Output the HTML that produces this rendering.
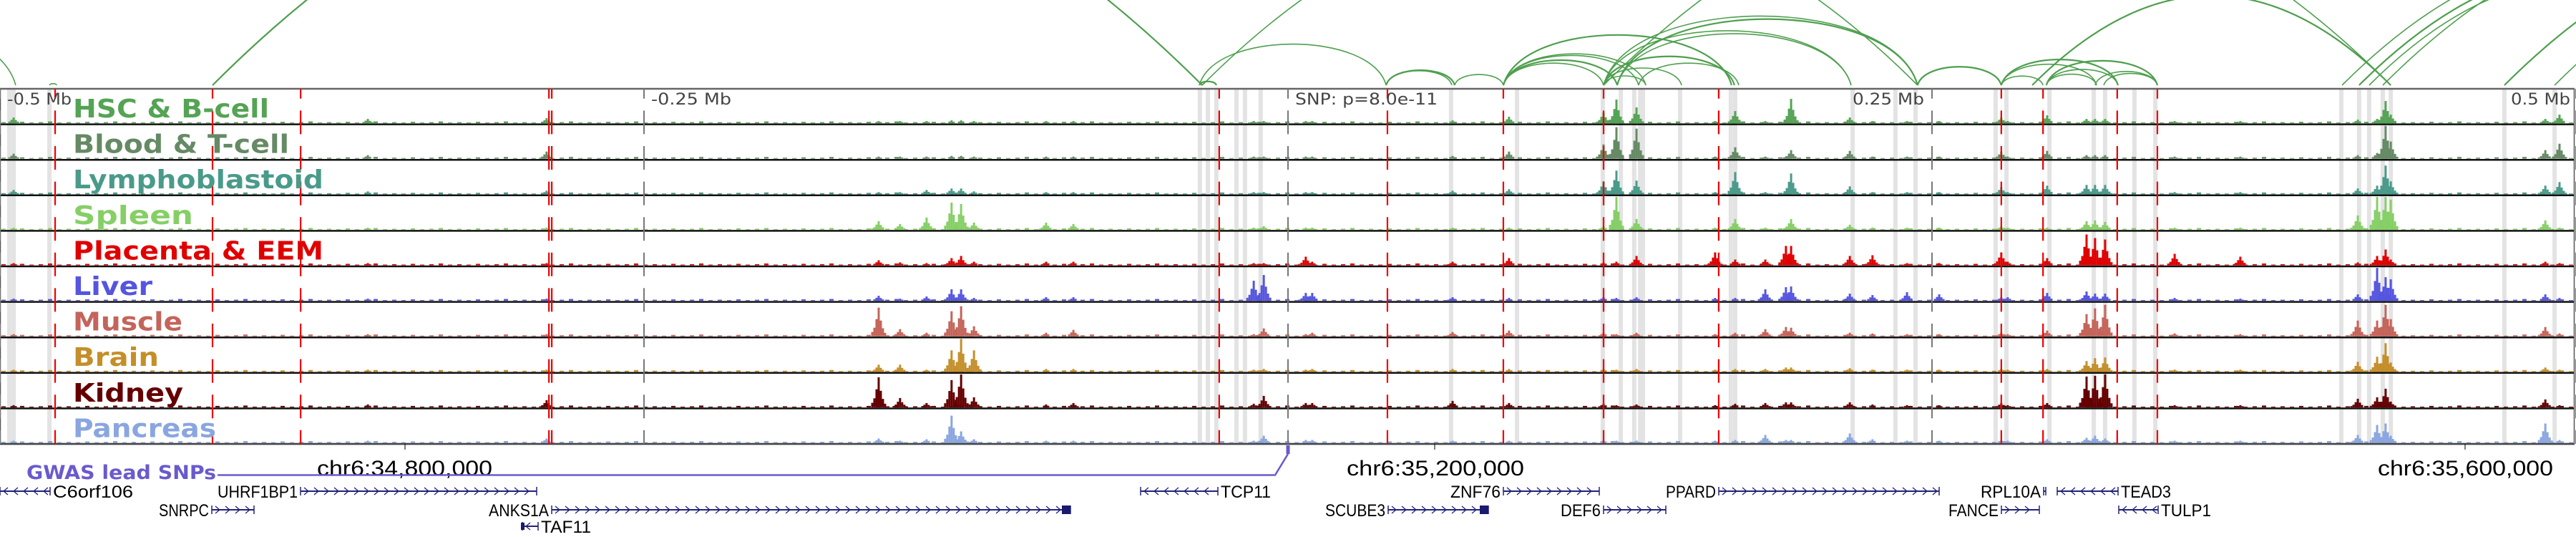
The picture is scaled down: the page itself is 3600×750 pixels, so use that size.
<!DOCTYPE html>
<html><head><meta charset="utf-8">
<style>
html,body{margin:0;padding:0;background:#fff;}
svg{display:block;}
.tl{font-family:"DejaVu Sans Condensed","DejaVu Sans",sans-serif;font-weight:bold;font-size:36px;}
.ax{font-family:"DejaVu Sans Condensed","DejaVu Sans",sans-serif;font-size:22px;fill:#444;}
.gn{font-family:"Liberation Sans",sans-serif;font-size:24px;fill:#000;}
.chr{font-family:"Liberation Sans",sans-serif;font-size:30px;fill:#000;}
</style></head>
<body>
<svg id="chart" width="3600" height="750" viewBox="0 0 3600 750" xmlns="http://www.w3.org/2000/svg">
<g id="arcs"></g>
<g id="shades"></g>
<g id="tracks"></g>
<g id="vlines"></g>
<g id="labels"></g>
<g id="axis">
  <text class="ax" x="10" y="146" textLength="90" lengthAdjust="spacingAndGlyphs">-0.5 Mb</text>
  <text class="ax" x="910" y="146" textLength="112" lengthAdjust="spacingAndGlyphs">-0.25 Mb</text>
  <text class="ax" x="1810" y="146" textLength="199" lengthAdjust="spacingAndGlyphs">SNP: p=8.0e-11</text>
  <text class="ax" x="2589" y="146" textLength="100" lengthAdjust="spacingAndGlyphs">0.25 Mb</text>
  <text class="ax" x="3509" y="146" textLength="83" lengthAdjust="spacingAndGlyphs">0.5 Mb</text>
</g>
<g id="bottom">
  <line x1="566" y1="620" x2="566" y2="628" stroke="#000" stroke-width="1"/>
  <line x1="2005" y1="620" x2="2005" y2="628" stroke="#000" stroke-width="1"/>
  <line x1="3445" y1="620" x2="3445" y2="628" stroke="#000" stroke-width="1"/>
  <text class="chr" x="443" y="664" textLength="245" lengthAdjust="spacingAndGlyphs">chr6:34,800,000</text>
  <text class="chr" x="1882" y="664" textLength="248" lengthAdjust="spacingAndGlyphs">chr6:35,200,000</text>
  <text class="chr" x="3323" y="664" textLength="245" lengthAdjust="spacingAndGlyphs">chr6:35,600,000</text>
</g>
<g id="gwas">
  <text x="37" y="669" textLength="265" lengthAdjust="spacingAndGlyphs" style="font-family:'DejaVu Sans Condensed','DejaVu Sans',sans-serif;font-weight:bold;font-size:27px;fill:#6a5acd">GWAS lead SNPs</text>
  <polyline points="304,663.5 1782,663.5 1800,634" fill="none" stroke="#6a5acd" stroke-width="2.5"/>
  <rect x="1797.5" y="622" width="5" height="12" fill="#6a5acd"/>
</g>
<g id="genes"></g>
</svg>
<script>
// ---- data (kb relative to lead SNP) ----
const trackNames = ["HSC & B-cell","Blood & T-cell","Lymphoblastoid","Spleen","Placenta & EEM","Liver","Muscle","Brain","Kidney","Pancreas"];
const trackColors = ["#55a355","#658a65","#4a9a8a","#86cf66","#e00000","#5555e0","#c4645a","#c48f2a","#650000","#8aa6e0"];
const labelWidths = [274,302,350,168,350,111,153,120,154,200];
const peakPos = [-494.7,-357.2,-287.8,-158.9,-150.6,-140.3,-130.6,-126.9,-121.9,-93.9,-83.3,-13.3,-9.4,6.9,9.4,63.9,85.8,122.5,127.5,135.3,165.8,173.6,185.3,193.3,195.3,218.1,226.9,240.3,252.8,276.9,279.4,294.7,310,313.3,317.2,344.2,369.7,415.3,422.8,426.1,428.1,488.1,493.6];
const hsc = [8,6,7,3,3,3,4,4,3,3,3,3,3,3,3,4,9,15,33,22,3,17,3,3,34,8,3,3,3,8,3,11,6,6,6,3,3,5,6,31,12,6,12];
const blood = [7,5,10,3,3,3,4,4,3,3,3,3,3,3,3,4,10,20,44,42,3,16,3,3,12,11,3,3,3,10,3,11,5,5,5,3,3,5,8,46,24,12,21];
const lympho = [6,4,5,3,3,6,8,8,4,3,3,3,3,3,3,5,7,18,33,19,3,31,3,3,29,11,3,3,3,10,3,12,13,13,13,3,3,8,12,40,18,12,17];
const spleen = [3,3,3,12,8,17,38,36,10,10,8,3,5,3,3,3,3,5,46,15,3,15,3,3,15,7,3,3,3,5,3,3,12,13,11,3,3,20,46,46,42,13,3];
const placenta = [3,3,3,7,4,3,10,13,5,5,5,3,3,12,5,5,10,4,5,13,18,8,8,27,27,13,14,3,3,18,5,10,43,38,36,16,12,4,13,22,8,5,3];
const liver = [3,3,3,7,3,6,16,16,4,5,5,28,36,11,11,5,4,5,4,5,4,4,16,19,20,10,8,12,9,5,5,11,13,10,10,4,3,9,46,33,30,9,4];
const muscle = [3,3,3,40,10,5,35,42,14,5,9,3,11,3,5,6,8,5,3,5,3,5,10,13,12,5,4,3,3,5,3,8,31,39,44,4,3,22,22,44,24,13,4];
const brain = [3,3,3,10,10,3,30,46,30,4,4,3,4,3,4,4,4,4,3,4,3,4,4,6,6,5,3,3,3,4,3,4,15,19,20,3,3,14,21,40,13,6,3];
const kidney = [3,4,10,42,13,6,38,48,14,4,6,5,16,6,6,9,6,5,3,4,3,5,6,7,7,7,4,3,3,6,3,6,43,44,47,3,3,12,14,26,8,11,3];
const pancreas = [3,3,6,6,3,5,38,16,5,3,3,3,10,4,4,3,3,4,3,3,3,4,11,4,4,13,5,3,3,4,3,5,7,10,6,3,3,11,25,27,10,27,4];
const trackValues = [hsc,blood,lympho,spleen,placenta,liver,muscle,brain,kidney,pancreas];
const arcStart = [-34.4,-34.4,38.1,38.1,64.7,83.6,83.6,83.6,83.6,83.6,122.5,122.5,122.5,122.5,127.8,127.8,136.1,122.5,244.4,276.9,276.9,276.9,294.4,294.4,294.4,313.3,316.7,288.9,122.5,409.2,415.8,419.7,425,472.2,491.7,-611,-417.5,-480.8,-33.3];
const arcEnd   = [-27.8,38.1,63.6,64.7,83.6,122.5,127.8,136.1,138.9,172.2,138.9,152.8,173.3,218.6,218.6,244.4,175,244.4,276.9,293.1,313.9,322.2,313.9,322.2,337.5,337.5,337.5,428.1,428.1,611,597,583,666.7,700,720,-493.9,-33.3,-478,244.4];
const shadePos = [-496.4,-494.7,-480.8,-34.2,-31.1,-27.8,-20,-16.7,-10.6,63.3,88.9,122.2,129.2,134.4,136.7,137.8,152.2,171.9,173.6,219.2,235.8,243.6,274.7,278.9,295.6,312.8,317.2,328.6,336.7,408.9,415.8,419.7,425,428.1,472.2,491.7];
const redPos = [-478.6,-417.5,-383.3,-286.9,-285.8,-26.7,38.6,83.6,122.5,167.2,276.9,293.1,321.9,337.5];
const tickPos = [-500,-250,0,250,500];

// ---- scales ----
const NS="http://www.w3.org/2000/svg";
const x = kb => 1800 + kb*3.6;
const TOP=124, ROWH=49.6, NT=10, BOTTOM=TOP+ROWH*NT;
const rowBase = i => TOP + ROWH*(i+1) - 1.5;
function mk(tag, attrs, parent){const e=document.createElementNS(NS,tag);for(const k in attrs)e.setAttribute(k,attrs[k]);parent.appendChild(e);return e;}

// arcs
const gA=document.getElementById('arcs');
arcStart.forEach((s,i)=>{
  const x1=x(s), x2=x(arcEnd[i]); const span=Math.abs(x2-x1); const base=119;
  let d;
  if(span>500){
    const h=0.25*span;
    d=`M${x1},${base} Q${(x1+x2)/2},${base-2*h} ${x2},${base}`;
  } else {
    const h=0.22*span, cy=base-h*4/3, in1=0.08*span*Math.sign(x2-x1);
    d=`M${x1},${base} C${x1+in1},${cy} ${x2-in1},${cy} ${x2},${base}`;
  }
  const p=mk('path',{d:d,fill:'none',stroke:'#4e9f4e','stroke-width':(i%3===0?2.2:1.6)},gA);
  
  
});

// shaded columns
const gS=document.getElementById('shades');
shadePos.forEach(v=>{
  const r=mk('rect',{x:x(v)-3,y:TOP,width:6,height:BOTTOM-TOP,fill:'#e3e3e3'},gS);
  
  
});

// tracks
const gT=document.getElementById('tracks');
const shape=[[-9,0.15],[-6,0.3],[-3,0.6],[0,1],[3,0.55],[6,0.28],[9,0.12]];
const noiseH=[1.5,1,2,1,1.5,2.5,1];
trackValues.forEach((vals,ti)=>{
  const g=mk('g',{fill:trackColors[ti]},gT);
  
  
  const base=rowBase(ti);
  let k=0;
  for(let px=2;px<3598;px+=13){
    const h=noiseH[k++%noiseH.length];
    const seg=mk('rect',{x:px,y:base-h,width:6,height:h},g);
    
    
  }
  vals.forEach((v,i)=>{
    const cx=x(peakPos[i]);
    shape.forEach(([dx,f])=>{
      const h=Math.min(46,v*f); if(h<1.5) return;
      const b=mk('rect',{x:cx+dx-1.5,y:base-h,width:3,height:h},g);
      
      
    });
  });
  const l=mk('line',{x1:0,x2:3598,y1:TOP+ROWH*(ti+1),y2:TOP+ROWH*(ti+1),stroke:'#111','stroke-width':2.5},gT);
  
  
});
const border=mk('rect',{x:0.5,y:TOP,width:3597,height:BOTTOM-TOP,fill:'none',stroke:'#555','stroke-width':1.5},gT);


const topLine=mk('line',{x1:0,x2:3598,y1:TOP,y2:TOP,stroke:'#666','stroke-width':2.5},gT);



// vertical dashed lines
const gV=document.getElementById('vlines');
const dash={'stroke-dasharray':'33 16.6','stroke-dashoffset':'19.2'};
tickPos.forEach(v=>{
  const l=mk('line',Object.assign({x1:x(v),x2:x(v),y1:TOP,y2:BOTTOM,stroke:'#777','stroke-width':2},dash),gV);
  
  
});
redPos.forEach(v=>{
  const l=mk('line',Object.assign({x1:x(v),x2:x(v),y1:TOP,y2:BOTTOM,stroke:'#ee0000','stroke-width':2.2},dash),gV);
  
  
});

// labels
const gL=document.getElementById('labels');
trackNames.forEach((n,i)=>{
  const t=mk('text',{class:'tl',x:102,y:TOP+ROWH*i+40,fill:trackColors[i],textLength:labelWidths[i],lengthAdjust:'spacingAndGlyphs'},gL);
  t.textContent=n;
  
  
});

// genes
const genes=[
 ["C6orf106",0,70,686,-1,"right"],["UHRF1BP1",420,750,686,1,"left"],["SNRPC",296,355,712,1,"left"],
 ["ANKS1A",771,1496,712,1,"left"],["TAF11",730,752,735,-1,"right"],["TCP11",1594,1702,686,-1,"right"],
 ["ZNF76",2101,2235,686,1,"left"],["SCUBE3",1940,2080,712,1,"left"],["DEF6",2241,2328,712,1,"left"],
 ["PPARD",2402,2710,686,1,"left"],["RPL10A",2856,2859,686,1,"left"],["TEAD3",2875,2960,686,-1,"right"],
 ["FANCE",2797,2850,712,1,"left"],["TULP1",2961,3016,712,-1,"right"]];
const gG=document.getElementById('genes');
genes.forEach(([name,s,e,y,dir,side])=>{
  const g=mk('g',{},gG);
  
  
  mk('line',{x1:s,x2:e,y1:y,y2:y,stroke:'#22227a','stroke-width':2},g);
  mk('line',{x1:s,x2:s,y1:y-6,y2:y+6,stroke:'#22227a','stroke-width':1.5},g);
  mk('line',{x1:e,x2:e,y1:y-6,y2:y+6,stroke:'#22227a','stroke-width':1.5},g);
  for(let px=s+8;px<e-4;px+=14){
    mk('polyline',{points:`${px-3*dir},${y-5} ${px+3*dir},${y} ${px-3*dir},${y+5}`,fill:'none',stroke:'#22227a','stroke-width':1.3},g);
  }
  if(name==="ANKS1A"||name==="SCUBE3") mk('rect',{x:e-12,y:y-6,width:12,height:12,fill:'#1a1a6e'},g);
  if(name==="TAF11") mk('rect',{x:s-2,y:y-5,width:5,height:10,fill:'#1a1a6e'},g);
  const w=name.length*14;
  const tx= side==="left" ? s-4-w : e+4;
  const t=mk('text',{class:'gn',x:tx,y:y+9,textLength:w,lengthAdjust:'spacingAndGlyphs'},g);
  t.textContent=name;
});
</script>
</body></html>
